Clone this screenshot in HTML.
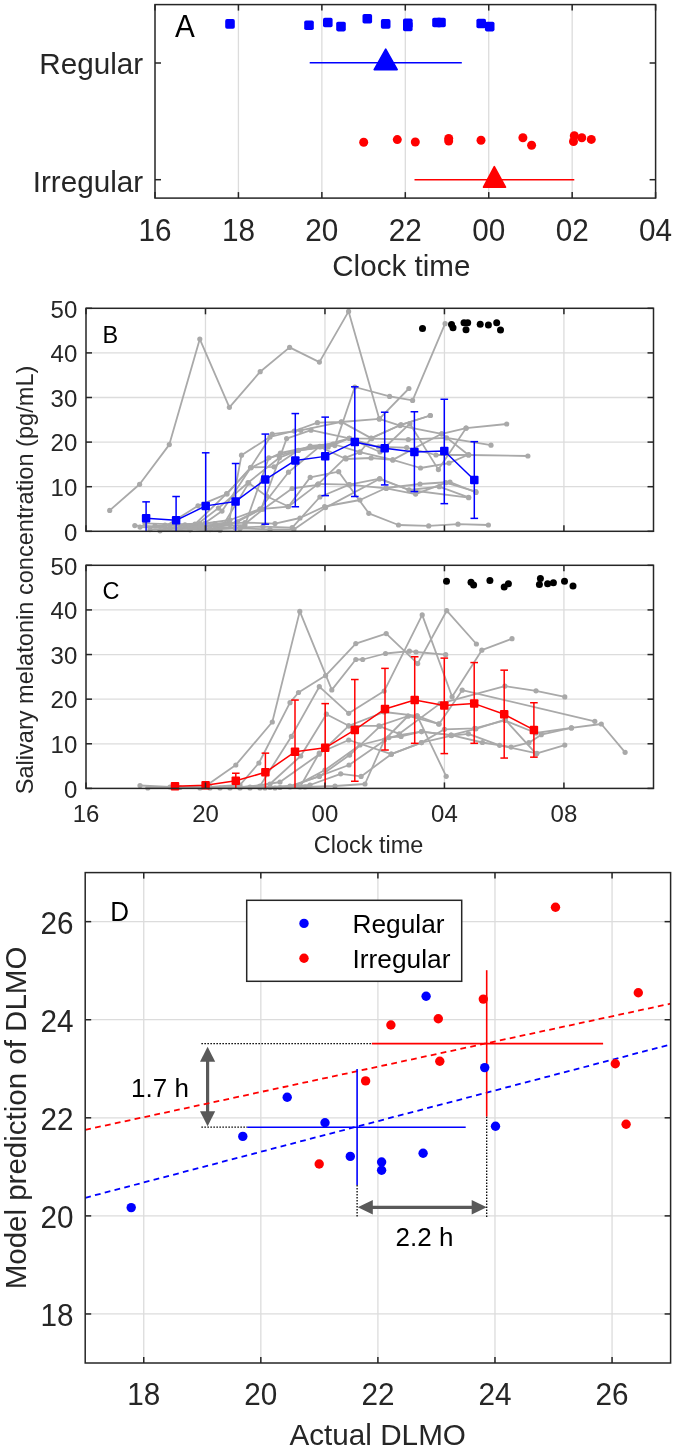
<!DOCTYPE html>
<html><head><meta charset="utf-8"><style>
html,body{margin:0;padding:0;background:#fff;}
svg{display:block;font-family:"Liberation Sans", sans-serif;will-change:transform;filter:blur(0.3px);}
</style></head><body>
<svg width="675" height="1449" viewBox="0 0 675 1449" font-family='"Liberation Sans", sans-serif'>
<rect width="675" height="1449" fill="#fff"/>
<line x1="238.43" y1="4.60" x2="238.43" y2="198.10" stroke="#dcdcdc" stroke-width="1.3" />
<line x1="321.87" y1="4.60" x2="321.87" y2="198.10" stroke="#dcdcdc" stroke-width="1.3" />
<line x1="405.30" y1="4.60" x2="405.30" y2="198.10" stroke="#dcdcdc" stroke-width="1.3" />
<line x1="488.73" y1="4.60" x2="488.73" y2="198.10" stroke="#dcdcdc" stroke-width="1.3" />
<line x1="572.17" y1="4.60" x2="572.17" y2="198.10" stroke="#dcdcdc" stroke-width="1.3" />
<rect x="225.20" y="19.10" width="9.6" height="9.6" rx="1.8" fill="#0000ff"/>
<rect x="304.20" y="20.40" width="9.6" height="9.6" rx="1.8" fill="#0000ff"/>
<rect x="323.00" y="17.70" width="9.6" height="9.6" rx="1.8" fill="#0000ff"/>
<rect x="336.20" y="21.80" width="9.6" height="9.6" rx="1.8" fill="#0000ff"/>
<rect x="362.50" y="13.90" width="9.6" height="9.6" rx="1.8" fill="#0000ff"/>
<rect x="380.90" y="19.10" width="9.6" height="9.6" rx="1.8" fill="#0000ff"/>
<rect x="403.00" y="18.40" width="9.6" height="9.6" rx="1.8" fill="#0000ff"/>
<rect x="403.00" y="21.60" width="9.6" height="9.6" rx="1.8" fill="#0000ff"/>
<rect x="432.20" y="17.70" width="9.6" height="9.6" rx="1.8" fill="#0000ff"/>
<rect x="436.20" y="17.70" width="9.6" height="9.6" rx="1.8" fill="#0000ff"/>
<rect x="476.40" y="18.70" width="9.6" height="9.6" rx="1.8" fill="#0000ff"/>
<rect x="484.90" y="21.80" width="9.6" height="9.6" rx="1.8" fill="#0000ff"/>
<line x1="309.70" y1="62.70" x2="461.80" y2="62.70" stroke="#0000ff" stroke-width="1.6" />
<polygon points="385.7,49.2 374.2,69.6 397.2,69.6" fill="#0000ff" stroke="#0000ff" stroke-width="1.6" stroke-linejoin="round"/>
<circle cx="363.70" cy="142.20" r="4.5" fill="#ff0000"/>
<circle cx="397.30" cy="139.60" r="4.5" fill="#ff0000"/>
<circle cx="415.30" cy="142.00" r="4.5" fill="#ff0000"/>
<circle cx="448.70" cy="138.40" r="4.5" fill="#ff0000"/>
<circle cx="448.70" cy="141.00" r="4.5" fill="#ff0000"/>
<circle cx="481.00" cy="140.30" r="4.5" fill="#ff0000"/>
<circle cx="522.90" cy="137.80" r="4.5" fill="#ff0000"/>
<circle cx="531.60" cy="145.30" r="4.5" fill="#ff0000"/>
<circle cx="574.30" cy="135.70" r="4.5" fill="#ff0000"/>
<circle cx="573.50" cy="141.50" r="4.5" fill="#ff0000"/>
<circle cx="581.80" cy="137.80" r="4.5" fill="#ff0000"/>
<circle cx="591.30" cy="139.40" r="4.5" fill="#ff0000"/>
<line x1="414.50" y1="179.70" x2="574.30" y2="179.70" stroke="#ff0000" stroke-width="1.6" />
<polygon points="494.3,166.7 483.5,187.2 505.5,187.2" fill="#ff0000" stroke="#ff0000" stroke-width="1.6" stroke-linejoin="round"/>
<line x1="155.00" y1="198.10" x2="155.00" y2="192.10" stroke="#262626" stroke-width="1.5" />
<line x1="155.00" y1="4.60" x2="155.00" y2="10.60" stroke="#262626" stroke-width="1.5" />
<line x1="238.43" y1="198.10" x2="238.43" y2="192.10" stroke="#262626" stroke-width="1.5" />
<line x1="238.43" y1="4.60" x2="238.43" y2="10.60" stroke="#262626" stroke-width="1.5" />
<line x1="321.87" y1="198.10" x2="321.87" y2="192.10" stroke="#262626" stroke-width="1.5" />
<line x1="321.87" y1="4.60" x2="321.87" y2="10.60" stroke="#262626" stroke-width="1.5" />
<line x1="405.30" y1="198.10" x2="405.30" y2="192.10" stroke="#262626" stroke-width="1.5" />
<line x1="405.30" y1="4.60" x2="405.30" y2="10.60" stroke="#262626" stroke-width="1.5" />
<line x1="488.73" y1="198.10" x2="488.73" y2="192.10" stroke="#262626" stroke-width="1.5" />
<line x1="488.73" y1="4.60" x2="488.73" y2="10.60" stroke="#262626" stroke-width="1.5" />
<line x1="572.17" y1="198.10" x2="572.17" y2="192.10" stroke="#262626" stroke-width="1.5" />
<line x1="572.17" y1="4.60" x2="572.17" y2="10.60" stroke="#262626" stroke-width="1.5" />
<line x1="655.60" y1="198.10" x2="655.60" y2="192.10" stroke="#262626" stroke-width="1.5" />
<line x1="655.60" y1="4.60" x2="655.60" y2="10.60" stroke="#262626" stroke-width="1.5" />
<line x1="155.00" y1="63.00" x2="161.00" y2="63.00" stroke="#262626" stroke-width="1.5" />
<line x1="655.60" y1="63.00" x2="649.60" y2="63.00" stroke="#262626" stroke-width="1.5" />
<line x1="155.00" y1="179.70" x2="161.00" y2="179.70" stroke="#262626" stroke-width="1.5" />
<line x1="655.60" y1="179.70" x2="649.60" y2="179.70" stroke="#262626" stroke-width="1.5" />
<rect x="155.0" y="4.6" width="500.6" height="193.5" fill="none" stroke="#262626" stroke-width="1.5"/>
<text transform="translate(155.00,241.10) scale(1,1.03)" font-size="29.7" text-anchor="middle" fill="#262626" >16</text>
<text transform="translate(238.43,241.10) scale(1,1.03)" font-size="29.7" text-anchor="middle" fill="#262626" >18</text>
<text transform="translate(321.87,241.10) scale(1,1.03)" font-size="29.7" text-anchor="middle" fill="#262626" >20</text>
<text transform="translate(405.30,241.10) scale(1,1.03)" font-size="29.7" text-anchor="middle" fill="#262626" >22</text>
<text transform="translate(488.73,241.10) scale(1,1.03)" font-size="29.7" text-anchor="middle" fill="#262626" >00</text>
<text transform="translate(572.17,241.10) scale(1,1.03)" font-size="29.7" text-anchor="middle" fill="#262626" >02</text>
<text transform="translate(655.60,241.10) scale(1,1.03)" font-size="29.7" text-anchor="middle" fill="#262626" >04</text>
<text transform="translate(401.30,275.80) scale(1,1.015)" font-size="29.6" text-anchor="middle" fill="#262626" >Clock time</text>
<text transform="translate(143.20,74.30) scale(1,1.015)" font-size="29.7" text-anchor="end" fill="#262626" >Regular</text>
<text transform="translate(143.20,191.50) scale(1,1.015)" font-size="29.7" text-anchor="end" fill="#262626" >Irregular</text>
<text transform="translate(174.90,36.70) scale(1,1.04)" font-size="29.7" text-anchor="start" fill="#000" >A</text>
<line x1="205.48" y1="308.30" x2="205.48" y2="531.30" stroke="#dcdcdc" stroke-width="1.3" />
<line x1="324.96" y1="308.30" x2="324.96" y2="531.30" stroke="#dcdcdc" stroke-width="1.3" />
<line x1="444.44" y1="308.30" x2="444.44" y2="531.30" stroke="#dcdcdc" stroke-width="1.3" />
<line x1="563.92" y1="308.30" x2="563.92" y2="531.30" stroke="#dcdcdc" stroke-width="1.3" />
<line x1="86.00" y1="486.70" x2="653.50" y2="486.70" stroke="#dcdcdc" stroke-width="1.3" />
<line x1="86.00" y1="442.10" x2="653.50" y2="442.10" stroke="#dcdcdc" stroke-width="1.3" />
<line x1="86.00" y1="397.50" x2="653.50" y2="397.50" stroke="#dcdcdc" stroke-width="1.3" />
<line x1="86.00" y1="352.90" x2="653.50" y2="352.90" stroke="#dcdcdc" stroke-width="1.3" />
<line x1="205.48" y1="565.30" x2="205.48" y2="788.40" stroke="#dcdcdc" stroke-width="1.3" />
<line x1="324.96" y1="565.30" x2="324.96" y2="788.40" stroke="#dcdcdc" stroke-width="1.3" />
<line x1="444.44" y1="565.30" x2="444.44" y2="788.40" stroke="#dcdcdc" stroke-width="1.3" />
<line x1="563.92" y1="565.30" x2="563.92" y2="788.40" stroke="#dcdcdc" stroke-width="1.3" />
<line x1="86.00" y1="743.78" x2="653.50" y2="743.78" stroke="#dcdcdc" stroke-width="1.3" />
<line x1="86.00" y1="699.16" x2="653.50" y2="699.16" stroke="#dcdcdc" stroke-width="1.3" />
<line x1="86.00" y1="654.54" x2="653.50" y2="654.54" stroke="#dcdcdc" stroke-width="1.3" />
<line x1="86.00" y1="609.92" x2="653.50" y2="609.92" stroke="#dcdcdc" stroke-width="1.3" />
<polyline points="109.70,510.40 139.60,484.30 169.30,444.60 199.80,339.10 229.40,407.30 260.20,371.70 289.60,347.40 319.40,362.10 348.60,311.40 379.30,418.90 408.90,388.50" fill="none" stroke="#a9a9a9" stroke-width="1.8" stroke-linejoin="round" />
<circle cx="109.70" cy="510.40" r="2.6" fill="#a9a9a9"/>
<circle cx="139.60" cy="484.30" r="2.6" fill="#a9a9a9"/>
<circle cx="169.30" cy="444.60" r="2.6" fill="#a9a9a9"/>
<circle cx="199.80" cy="339.10" r="2.6" fill="#a9a9a9"/>
<circle cx="229.40" cy="407.30" r="2.6" fill="#a9a9a9"/>
<circle cx="260.20" cy="371.70" r="2.6" fill="#a9a9a9"/>
<circle cx="289.60" cy="347.40" r="2.6" fill="#a9a9a9"/>
<circle cx="319.40" cy="362.10" r="2.6" fill="#a9a9a9"/>
<circle cx="348.60" cy="311.40" r="2.6" fill="#a9a9a9"/>
<circle cx="379.30" cy="418.90" r="2.6" fill="#a9a9a9"/>
<circle cx="408.90" cy="388.50" r="2.6" fill="#a9a9a9"/>
<polyline points="165.00,525.10 195.00,524.10 226.70,493.70 251.00,467.80 280.40,453.00 310.00,447.00 334.80,445.60 354.80,387.00 389.60,396.40 412.60,400.40 445.10,323.70" fill="none" stroke="#a9a9a9" stroke-width="1.8" stroke-linejoin="round" />
<circle cx="165.00" cy="525.10" r="2.6" fill="#a9a9a9"/>
<circle cx="195.00" cy="524.10" r="2.6" fill="#a9a9a9"/>
<circle cx="226.70" cy="493.70" r="2.6" fill="#a9a9a9"/>
<circle cx="251.00" cy="467.80" r="2.6" fill="#a9a9a9"/>
<circle cx="280.40" cy="453.00" r="2.6" fill="#a9a9a9"/>
<circle cx="310.00" cy="447.00" r="2.6" fill="#a9a9a9"/>
<circle cx="334.80" cy="445.60" r="2.6" fill="#a9a9a9"/>
<circle cx="354.80" cy="387.00" r="2.6" fill="#a9a9a9"/>
<circle cx="389.60" cy="396.40" r="2.6" fill="#a9a9a9"/>
<circle cx="412.60" cy="400.40" r="2.6" fill="#a9a9a9"/>
<circle cx="445.10" cy="323.70" r="2.6" fill="#a9a9a9"/>
<polyline points="134.80,525.60 165.00,526.60 198.00,505.80 227.00,493.90 250.50,467.50 272.20,434.20 300.70,430.30 341.50,421.90 371.10,438.10 401.00,424.80 430.30,415.50" fill="none" stroke="#a9a9a9" stroke-width="1.8" stroke-linejoin="round" />
<circle cx="134.80" cy="525.60" r="2.6" fill="#a9a9a9"/>
<circle cx="165.00" cy="526.60" r="2.6" fill="#a9a9a9"/>
<circle cx="198.00" cy="505.80" r="2.6" fill="#a9a9a9"/>
<circle cx="227.00" cy="493.90" r="2.6" fill="#a9a9a9"/>
<circle cx="250.50" cy="467.50" r="2.6" fill="#a9a9a9"/>
<circle cx="272.20" cy="434.20" r="2.6" fill="#a9a9a9"/>
<circle cx="300.70" cy="430.30" r="2.6" fill="#a9a9a9"/>
<circle cx="341.50" cy="421.90" r="2.6" fill="#a9a9a9"/>
<circle cx="371.10" cy="438.10" r="2.6" fill="#a9a9a9"/>
<circle cx="401.00" cy="424.80" r="2.6" fill="#a9a9a9"/>
<circle cx="430.30" cy="415.50" r="2.6" fill="#a9a9a9"/>
<polyline points="140.00,527.10 170.00,528.10 200.00,527.10 229.10,521.80 241.50,455.20 270.00,437.00 294.30,431.00 317.40,422.70 341.10,422.00 379.30,418.90 400.00,425.60 441.70,433.80 466.20,428.10 506.70,424.00" fill="none" stroke="#a9a9a9" stroke-width="1.8" stroke-linejoin="round" />
<circle cx="140.00" cy="527.10" r="2.6" fill="#a9a9a9"/>
<circle cx="170.00" cy="528.10" r="2.6" fill="#a9a9a9"/>
<circle cx="200.00" cy="527.10" r="2.6" fill="#a9a9a9"/>
<circle cx="229.10" cy="521.80" r="2.6" fill="#a9a9a9"/>
<circle cx="241.50" cy="455.20" r="2.6" fill="#a9a9a9"/>
<circle cx="270.00" cy="437.00" r="2.6" fill="#a9a9a9"/>
<circle cx="294.30" cy="431.00" r="2.6" fill="#a9a9a9"/>
<circle cx="317.40" cy="422.70" r="2.6" fill="#a9a9a9"/>
<circle cx="341.10" cy="422.00" r="2.6" fill="#a9a9a9"/>
<circle cx="379.30" cy="418.90" r="2.6" fill="#a9a9a9"/>
<circle cx="400.00" cy="425.60" r="2.6" fill="#a9a9a9"/>
<circle cx="441.70" cy="433.80" r="2.6" fill="#a9a9a9"/>
<circle cx="466.20" cy="428.10" r="2.6" fill="#a9a9a9"/>
<circle cx="506.70" cy="424.00" r="2.6" fill="#a9a9a9"/>
<polyline points="150.00,529.60 180.00,528.60 210.00,529.60 237.40,521.80 261.10,509.30 286.60,438.60 311.00,430.20 349.30,438.30 371.60,438.70 408.30,439.50 446.60,437.90 491.00,445.20" fill="none" stroke="#a9a9a9" stroke-width="1.8" stroke-linejoin="round" />
<circle cx="150.00" cy="529.60" r="2.6" fill="#a9a9a9"/>
<circle cx="180.00" cy="528.60" r="2.6" fill="#a9a9a9"/>
<circle cx="210.00" cy="529.60" r="2.6" fill="#a9a9a9"/>
<circle cx="237.40" cy="521.80" r="2.6" fill="#a9a9a9"/>
<circle cx="261.10" cy="509.30" r="2.6" fill="#a9a9a9"/>
<circle cx="286.60" cy="438.60" r="2.6" fill="#a9a9a9"/>
<circle cx="311.00" cy="430.20" r="2.6" fill="#a9a9a9"/>
<circle cx="349.30" cy="438.30" r="2.6" fill="#a9a9a9"/>
<circle cx="371.60" cy="438.70" r="2.6" fill="#a9a9a9"/>
<circle cx="408.30" cy="439.50" r="2.6" fill="#a9a9a9"/>
<circle cx="446.60" cy="437.90" r="2.6" fill="#a9a9a9"/>
<circle cx="491.00" cy="445.20" r="2.6" fill="#a9a9a9"/>
<polyline points="160.00,530.80 190.00,529.80 218.40,508.10 248.00,482.70 279.40,457.70 310.20,446.00 333.00,444.00 359.90,452.20 392.80,459.90 420.50,468.00 449.00,463.10 468.70,454.50" fill="none" stroke="#a9a9a9" stroke-width="1.8" stroke-linejoin="round" />
<circle cx="160.00" cy="530.80" r="2.6" fill="#a9a9a9"/>
<circle cx="190.00" cy="529.80" r="2.6" fill="#a9a9a9"/>
<circle cx="218.40" cy="508.10" r="2.6" fill="#a9a9a9"/>
<circle cx="248.00" cy="482.70" r="2.6" fill="#a9a9a9"/>
<circle cx="279.40" cy="457.70" r="2.6" fill="#a9a9a9"/>
<circle cx="310.20" cy="446.00" r="2.6" fill="#a9a9a9"/>
<circle cx="333.00" cy="444.00" r="2.6" fill="#a9a9a9"/>
<circle cx="359.90" cy="452.20" r="2.6" fill="#a9a9a9"/>
<circle cx="392.80" cy="459.90" r="2.6" fill="#a9a9a9"/>
<circle cx="420.50" cy="468.00" r="2.6" fill="#a9a9a9"/>
<circle cx="449.00" cy="463.10" r="2.6" fill="#a9a9a9"/>
<circle cx="468.70" cy="454.50" r="2.6" fill="#a9a9a9"/>
<polyline points="145.00,523.40 175.00,524.40 205.00,523.40 230.00,520.00 260.00,509.00 288.50,472.20 319.90,446.40 349.30,438.30 378.60,447.00 406.70,447.60 436.00,455.00 468.60,455.00 527.90,456.00" fill="none" stroke="#a9a9a9" stroke-width="1.8" stroke-linejoin="round" />
<circle cx="145.00" cy="523.40" r="2.6" fill="#a9a9a9"/>
<circle cx="175.00" cy="524.40" r="2.6" fill="#a9a9a9"/>
<circle cx="205.00" cy="523.40" r="2.6" fill="#a9a9a9"/>
<circle cx="230.00" cy="520.00" r="2.6" fill="#a9a9a9"/>
<circle cx="260.00" cy="509.00" r="2.6" fill="#a9a9a9"/>
<circle cx="288.50" cy="472.20" r="2.6" fill="#a9a9a9"/>
<circle cx="319.90" cy="446.40" r="2.6" fill="#a9a9a9"/>
<circle cx="349.30" cy="438.30" r="2.6" fill="#a9a9a9"/>
<circle cx="378.60" cy="447.00" r="2.6" fill="#a9a9a9"/>
<circle cx="406.70" cy="447.60" r="2.6" fill="#a9a9a9"/>
<circle cx="436.00" cy="455.00" r="2.6" fill="#a9a9a9"/>
<circle cx="468.60" cy="455.00" r="2.6" fill="#a9a9a9"/>
<circle cx="527.90" cy="456.00" r="2.6" fill="#a9a9a9"/>
<polyline points="155.00,525.90 185.00,524.90 215.00,525.90 245.00,524.90 268.80,457.80 298.70,450.30 328.20,446.90 349.30,438.30 380.00,452.00 409.90,423.70 438.40,469.60 466.00,428.20" fill="none" stroke="#a9a9a9" stroke-width="1.8" stroke-linejoin="round" />
<circle cx="155.00" cy="525.90" r="2.6" fill="#a9a9a9"/>
<circle cx="185.00" cy="524.90" r="2.6" fill="#a9a9a9"/>
<circle cx="215.00" cy="525.90" r="2.6" fill="#a9a9a9"/>
<circle cx="245.00" cy="524.90" r="2.6" fill="#a9a9a9"/>
<circle cx="268.80" cy="457.80" r="2.6" fill="#a9a9a9"/>
<circle cx="298.70" cy="450.30" r="2.6" fill="#a9a9a9"/>
<circle cx="328.20" cy="446.90" r="2.6" fill="#a9a9a9"/>
<circle cx="349.30" cy="438.30" r="2.6" fill="#a9a9a9"/>
<circle cx="380.00" cy="452.00" r="2.6" fill="#a9a9a9"/>
<circle cx="409.90" cy="423.70" r="2.6" fill="#a9a9a9"/>
<circle cx="438.40" cy="469.60" r="2.6" fill="#a9a9a9"/>
<circle cx="466.00" cy="428.20" r="2.6" fill="#a9a9a9"/>
<polyline points="170.00,527.40 200.00,526.40 222.00,511.10 251.10,467.30 274.00,466.80 297.90,450.50 320.00,447.00 346.00,459.00 371.10,458.00 392.80,459.90 441.70,433.80 468.60,455.00" fill="none" stroke="#a9a9a9" stroke-width="1.8" stroke-linejoin="round" />
<circle cx="170.00" cy="527.40" r="2.6" fill="#a9a9a9"/>
<circle cx="200.00" cy="526.40" r="2.6" fill="#a9a9a9"/>
<circle cx="222.00" cy="511.10" r="2.6" fill="#a9a9a9"/>
<circle cx="251.10" cy="467.30" r="2.6" fill="#a9a9a9"/>
<circle cx="274.00" cy="466.80" r="2.6" fill="#a9a9a9"/>
<circle cx="297.90" cy="450.50" r="2.6" fill="#a9a9a9"/>
<circle cx="320.00" cy="447.00" r="2.6" fill="#a9a9a9"/>
<circle cx="346.00" cy="459.00" r="2.6" fill="#a9a9a9"/>
<circle cx="371.10" cy="458.00" r="2.6" fill="#a9a9a9"/>
<circle cx="392.80" cy="459.90" r="2.6" fill="#a9a9a9"/>
<circle cx="441.70" cy="433.80" r="2.6" fill="#a9a9a9"/>
<circle cx="468.60" cy="455.00" r="2.6" fill="#a9a9a9"/>
<polyline points="180.00,527.90 210.00,528.90 240.00,527.90 263.20,509.20 292.10,488.50 317.40,484.80 345.20,457.90 359.90,452.20 371.30,438.30 401.00,424.80 430.30,415.50" fill="none" stroke="#a9a9a9" stroke-width="1.8" stroke-linejoin="round" />
<circle cx="180.00" cy="527.90" r="2.6" fill="#a9a9a9"/>
<circle cx="210.00" cy="528.90" r="2.6" fill="#a9a9a9"/>
<circle cx="240.00" cy="527.90" r="2.6" fill="#a9a9a9"/>
<circle cx="263.20" cy="509.20" r="2.6" fill="#a9a9a9"/>
<circle cx="292.10" cy="488.50" r="2.6" fill="#a9a9a9"/>
<circle cx="317.40" cy="484.80" r="2.6" fill="#a9a9a9"/>
<circle cx="345.20" cy="457.90" r="2.6" fill="#a9a9a9"/>
<circle cx="359.90" cy="452.20" r="2.6" fill="#a9a9a9"/>
<circle cx="371.30" cy="438.30" r="2.6" fill="#a9a9a9"/>
<circle cx="401.00" cy="424.80" r="2.6" fill="#a9a9a9"/>
<circle cx="430.30" cy="415.50" r="2.6" fill="#a9a9a9"/>
<polyline points="190.00,529.20 220.00,530.20 248.70,483.10 266.60,496.20 288.50,506.50 310.20,477.40 338.70,471.70 368.80,513.30 398.50,525.00 428.70,525.90 458.00,524.20 488.40,525.00" fill="none" stroke="#a9a9a9" stroke-width="1.8" stroke-linejoin="round" />
<circle cx="190.00" cy="529.20" r="2.6" fill="#a9a9a9"/>
<circle cx="220.00" cy="530.20" r="2.6" fill="#a9a9a9"/>
<circle cx="248.70" cy="483.10" r="2.6" fill="#a9a9a9"/>
<circle cx="266.60" cy="496.20" r="2.6" fill="#a9a9a9"/>
<circle cx="288.50" cy="506.50" r="2.6" fill="#a9a9a9"/>
<circle cx="310.20" cy="477.40" r="2.6" fill="#a9a9a9"/>
<circle cx="338.70" cy="471.70" r="2.6" fill="#a9a9a9"/>
<circle cx="368.80" cy="513.30" r="2.6" fill="#a9a9a9"/>
<circle cx="398.50" cy="525.00" r="2.6" fill="#a9a9a9"/>
<circle cx="428.70" cy="525.90" r="2.6" fill="#a9a9a9"/>
<circle cx="458.00" cy="524.20" r="2.6" fill="#a9a9a9"/>
<circle cx="488.40" cy="525.00" r="2.6" fill="#a9a9a9"/>
<polyline points="200.00,523.60 230.00,524.60 260.10,509.20 288.10,506.70 318.30,483.90 349.30,484.70 379.80,478.60 409.10,490.00 439.30,486.70 468.60,497.30" fill="none" stroke="#a9a9a9" stroke-width="1.8" stroke-linejoin="round" />
<circle cx="200.00" cy="523.60" r="2.6" fill="#a9a9a9"/>
<circle cx="230.00" cy="524.60" r="2.6" fill="#a9a9a9"/>
<circle cx="260.10" cy="509.20" r="2.6" fill="#a9a9a9"/>
<circle cx="288.10" cy="506.70" r="2.6" fill="#a9a9a9"/>
<circle cx="318.30" cy="483.90" r="2.6" fill="#a9a9a9"/>
<circle cx="349.30" cy="484.70" r="2.6" fill="#a9a9a9"/>
<circle cx="379.80" cy="478.60" r="2.6" fill="#a9a9a9"/>
<circle cx="409.10" cy="490.00" r="2.6" fill="#a9a9a9"/>
<circle cx="439.30" cy="486.70" r="2.6" fill="#a9a9a9"/>
<circle cx="468.60" cy="497.30" r="2.6" fill="#a9a9a9"/>
<polyline points="205.00,526.60 235.00,527.60 263.00,526.60 292.20,527.60 319.90,497.00 349.30,484.70 386.30,488.40 415.60,494.10 445.80,482.70 475.90,491.60" fill="none" stroke="#a9a9a9" stroke-width="1.8" stroke-linejoin="round" />
<circle cx="205.00" cy="526.60" r="2.6" fill="#a9a9a9"/>
<circle cx="235.00" cy="527.60" r="2.6" fill="#a9a9a9"/>
<circle cx="263.00" cy="526.60" r="2.6" fill="#a9a9a9"/>
<circle cx="292.20" cy="527.60" r="2.6" fill="#a9a9a9"/>
<circle cx="319.90" cy="497.00" r="2.6" fill="#a9a9a9"/>
<circle cx="349.30" cy="484.70" r="2.6" fill="#a9a9a9"/>
<circle cx="386.30" cy="488.40" r="2.6" fill="#a9a9a9"/>
<circle cx="415.60" cy="494.10" r="2.6" fill="#a9a9a9"/>
<circle cx="445.80" cy="482.70" r="2.6" fill="#a9a9a9"/>
<circle cx="475.90" cy="491.60" r="2.6" fill="#a9a9a9"/>
<polyline points="210.00,529.40 240.00,528.40 270.00,529.40 293.90,529.40 325.60,507.60 379.40,479.00 409.10,490.00 468.70,497.70" fill="none" stroke="#a9a9a9" stroke-width="1.8" stroke-linejoin="round" />
<circle cx="210.00" cy="529.40" r="2.6" fill="#a9a9a9"/>
<circle cx="240.00" cy="528.40" r="2.6" fill="#a9a9a9"/>
<circle cx="270.00" cy="529.40" r="2.6" fill="#a9a9a9"/>
<circle cx="293.90" cy="529.40" r="2.6" fill="#a9a9a9"/>
<circle cx="325.60" cy="507.60" r="2.6" fill="#a9a9a9"/>
<circle cx="379.40" cy="479.00" r="2.6" fill="#a9a9a9"/>
<circle cx="409.10" cy="490.00" r="2.6" fill="#a9a9a9"/>
<circle cx="468.70" cy="497.70" r="2.6" fill="#a9a9a9"/>
<polyline points="215.00,523.60 245.00,522.60 275.00,523.60 300.00,518.00 324.60,506.50 360.00,500.00 386.00,488.00 420.00,484.00 450.00,482.00 476.00,492.50" fill="none" stroke="#a9a9a9" stroke-width="1.8" stroke-linejoin="round" />
<circle cx="215.00" cy="523.60" r="2.6" fill="#a9a9a9"/>
<circle cx="245.00" cy="522.60" r="2.6" fill="#a9a9a9"/>
<circle cx="275.00" cy="523.60" r="2.6" fill="#a9a9a9"/>
<circle cx="300.00" cy="518.00" r="2.6" fill="#a9a9a9"/>
<circle cx="324.60" cy="506.50" r="2.6" fill="#a9a9a9"/>
<circle cx="360.00" cy="500.00" r="2.6" fill="#a9a9a9"/>
<circle cx="386.00" cy="488.00" r="2.6" fill="#a9a9a9"/>
<circle cx="420.00" cy="484.00" r="2.6" fill="#a9a9a9"/>
<circle cx="450.00" cy="482.00" r="2.6" fill="#a9a9a9"/>
<circle cx="476.00" cy="492.50" r="2.6" fill="#a9a9a9"/>
<polyline points="140.00,785.50 170.00,787.00 205.00,786.50 235.80,765.00 272.30,722.00 299.80,611.40 331.80,689.90 355.80,659.50 362.70,659.50 385.50,653.50 409.40,651.20 416.00,652.00 445.70,654.70" fill="none" stroke="#a9a9a9" stroke-width="1.8" stroke-linejoin="round" />
<circle cx="140.00" cy="785.50" r="2.6" fill="#a9a9a9"/>
<circle cx="170.00" cy="787.00" r="2.6" fill="#a9a9a9"/>
<circle cx="205.00" cy="786.50" r="2.6" fill="#a9a9a9"/>
<circle cx="235.80" cy="765.00" r="2.6" fill="#a9a9a9"/>
<circle cx="272.30" cy="722.00" r="2.6" fill="#a9a9a9"/>
<circle cx="299.80" cy="611.40" r="2.6" fill="#a9a9a9"/>
<circle cx="331.80" cy="689.90" r="2.6" fill="#a9a9a9"/>
<circle cx="355.80" cy="659.50" r="2.6" fill="#a9a9a9"/>
<circle cx="362.70" cy="659.50" r="2.6" fill="#a9a9a9"/>
<circle cx="385.50" cy="653.50" r="2.6" fill="#a9a9a9"/>
<circle cx="409.40" cy="651.20" r="2.6" fill="#a9a9a9"/>
<circle cx="416.00" cy="652.00" r="2.6" fill="#a9a9a9"/>
<circle cx="445.70" cy="654.70" r="2.6" fill="#a9a9a9"/>
<polyline points="147.80,788.00 180.00,787.50 210.00,787.00 240.00,785.00 258.90,763.00 290.00,702.70 298.50,692.50 325.60,675.60 355.80,643.60 386.20,633.60 417.70,663.60 446.70,610.70 476.40,644.00" fill="none" stroke="#a9a9a9" stroke-width="1.8" stroke-linejoin="round" />
<circle cx="147.80" cy="788.00" r="2.6" fill="#a9a9a9"/>
<circle cx="180.00" cy="787.50" r="2.6" fill="#a9a9a9"/>
<circle cx="210.00" cy="787.00" r="2.6" fill="#a9a9a9"/>
<circle cx="240.00" cy="785.00" r="2.6" fill="#a9a9a9"/>
<circle cx="258.90" cy="763.00" r="2.6" fill="#a9a9a9"/>
<circle cx="290.00" cy="702.70" r="2.6" fill="#a9a9a9"/>
<circle cx="298.50" cy="692.50" r="2.6" fill="#a9a9a9"/>
<circle cx="325.60" cy="675.60" r="2.6" fill="#a9a9a9"/>
<circle cx="355.80" cy="643.60" r="2.6" fill="#a9a9a9"/>
<circle cx="386.20" cy="633.60" r="2.6" fill="#a9a9a9"/>
<circle cx="417.70" cy="663.60" r="2.6" fill="#a9a9a9"/>
<circle cx="446.70" cy="610.70" r="2.6" fill="#a9a9a9"/>
<circle cx="476.40" cy="644.00" r="2.6" fill="#a9a9a9"/>
<polyline points="200.00,788.00 230.00,787.50 260.00,786.00 291.40,736.40 319.30,686.70 348.70,713.30 384.20,691.10 422.20,614.90 452.10,696.80 481.80,650.20 512.00,638.70" fill="none" stroke="#a9a9a9" stroke-width="1.8" stroke-linejoin="round" />
<circle cx="200.00" cy="788.00" r="2.6" fill="#a9a9a9"/>
<circle cx="230.00" cy="787.50" r="2.6" fill="#a9a9a9"/>
<circle cx="260.00" cy="786.00" r="2.6" fill="#a9a9a9"/>
<circle cx="291.40" cy="736.40" r="2.6" fill="#a9a9a9"/>
<circle cx="319.30" cy="686.70" r="2.6" fill="#a9a9a9"/>
<circle cx="348.70" cy="713.30" r="2.6" fill="#a9a9a9"/>
<circle cx="384.20" cy="691.10" r="2.6" fill="#a9a9a9"/>
<circle cx="422.20" cy="614.90" r="2.6" fill="#a9a9a9"/>
<circle cx="452.10" cy="696.80" r="2.6" fill="#a9a9a9"/>
<circle cx="481.80" cy="650.20" r="2.6" fill="#a9a9a9"/>
<circle cx="512.00" cy="638.70" r="2.6" fill="#a9a9a9"/>
<polyline points="210.00,788.00 240.00,787.50 270.00,784.00 300.70,756.00 326.40,714.20 348.70,725.80 378.90,725.80 408.20,716.00 417.20,715.90 446.20,776.30" fill="none" stroke="#a9a9a9" stroke-width="1.8" stroke-linejoin="round" />
<circle cx="210.00" cy="788.00" r="2.6" fill="#a9a9a9"/>
<circle cx="240.00" cy="787.50" r="2.6" fill="#a9a9a9"/>
<circle cx="270.00" cy="784.00" r="2.6" fill="#a9a9a9"/>
<circle cx="300.70" cy="756.00" r="2.6" fill="#a9a9a9"/>
<circle cx="326.40" cy="714.20" r="2.6" fill="#a9a9a9"/>
<circle cx="348.70" cy="725.80" r="2.6" fill="#a9a9a9"/>
<circle cx="378.90" cy="725.80" r="2.6" fill="#a9a9a9"/>
<circle cx="408.20" cy="716.00" r="2.6" fill="#a9a9a9"/>
<circle cx="417.20" cy="715.90" r="2.6" fill="#a9a9a9"/>
<circle cx="446.20" cy="776.30" r="2.6" fill="#a9a9a9"/>
<polyline points="220.00,788.00 250.00,787.00 280.00,782.00 319.30,754.20 348.70,725.80 384.20,712.00 417.20,715.90 439.10,724.10 462.20,690.20 594.80,721.30" fill="none" stroke="#a9a9a9" stroke-width="1.8" stroke-linejoin="round" />
<circle cx="220.00" cy="788.00" r="2.6" fill="#a9a9a9"/>
<circle cx="250.00" cy="787.00" r="2.6" fill="#a9a9a9"/>
<circle cx="280.00" cy="782.00" r="2.6" fill="#a9a9a9"/>
<circle cx="319.30" cy="754.20" r="2.6" fill="#a9a9a9"/>
<circle cx="348.70" cy="725.80" r="2.6" fill="#a9a9a9"/>
<circle cx="384.20" cy="712.00" r="2.6" fill="#a9a9a9"/>
<circle cx="417.20" cy="715.90" r="2.6" fill="#a9a9a9"/>
<circle cx="439.10" cy="724.10" r="2.6" fill="#a9a9a9"/>
<circle cx="462.20" cy="690.20" r="2.6" fill="#a9a9a9"/>
<circle cx="594.80" cy="721.30" r="2.6" fill="#a9a9a9"/>
<polyline points="230.00,788.00 260.00,787.50 290.00,786.00 319.30,776.40 349.60,755.10 380.00,726.30 399.30,733.80 440.00,703.60 504.90,686.10 536.00,690.80 564.80,696.90" fill="none" stroke="#a9a9a9" stroke-width="1.8" stroke-linejoin="round" />
<circle cx="230.00" cy="788.00" r="2.6" fill="#a9a9a9"/>
<circle cx="260.00" cy="787.50" r="2.6" fill="#a9a9a9"/>
<circle cx="290.00" cy="786.00" r="2.6" fill="#a9a9a9"/>
<circle cx="319.30" cy="776.40" r="2.6" fill="#a9a9a9"/>
<circle cx="349.60" cy="755.10" r="2.6" fill="#a9a9a9"/>
<circle cx="380.00" cy="726.30" r="2.6" fill="#a9a9a9"/>
<circle cx="399.30" cy="733.80" r="2.6" fill="#a9a9a9"/>
<circle cx="440.00" cy="703.60" r="2.6" fill="#a9a9a9"/>
<circle cx="504.90" cy="686.10" r="2.6" fill="#a9a9a9"/>
<circle cx="536.00" cy="690.80" r="2.6" fill="#a9a9a9"/>
<circle cx="564.80" cy="696.90" r="2.6" fill="#a9a9a9"/>
<polyline points="240.00,788.00 270.00,787.50 300.00,787.00 319.30,753.00 348.70,740.00 391.30,754.20 421.50,742.60 444.40,729.30 474.70,728.40 504.90,720.40 536.00,733.00 571.40,727.90 601.30,724.00 625.10,752.30" fill="none" stroke="#a9a9a9" stroke-width="1.8" stroke-linejoin="round" />
<circle cx="240.00" cy="788.00" r="2.6" fill="#a9a9a9"/>
<circle cx="270.00" cy="787.50" r="2.6" fill="#a9a9a9"/>
<circle cx="300.00" cy="787.00" r="2.6" fill="#a9a9a9"/>
<circle cx="319.30" cy="753.00" r="2.6" fill="#a9a9a9"/>
<circle cx="348.70" cy="740.00" r="2.6" fill="#a9a9a9"/>
<circle cx="391.30" cy="754.20" r="2.6" fill="#a9a9a9"/>
<circle cx="421.50" cy="742.60" r="2.6" fill="#a9a9a9"/>
<circle cx="444.40" cy="729.30" r="2.6" fill="#a9a9a9"/>
<circle cx="474.70" cy="728.40" r="2.6" fill="#a9a9a9"/>
<circle cx="504.90" cy="720.40" r="2.6" fill="#a9a9a9"/>
<circle cx="536.00" cy="733.00" r="2.6" fill="#a9a9a9"/>
<circle cx="571.40" cy="727.90" r="2.6" fill="#a9a9a9"/>
<circle cx="601.30" cy="724.00" r="2.6" fill="#a9a9a9"/>
<circle cx="625.10" cy="752.30" r="2.6" fill="#a9a9a9"/>
<polyline points="250.00,788.00 280.00,787.50 310.00,785.00 340.70,773.80 361.10,776.40 391.30,754.20 421.50,742.60 451.60,735.60 468.40,733.80 499.60,745.30 536.90,753.30 564.80,745.10" fill="none" stroke="#a9a9a9" stroke-width="1.8" stroke-linejoin="round" />
<circle cx="250.00" cy="788.00" r="2.6" fill="#a9a9a9"/>
<circle cx="280.00" cy="787.50" r="2.6" fill="#a9a9a9"/>
<circle cx="310.00" cy="785.00" r="2.6" fill="#a9a9a9"/>
<circle cx="340.70" cy="773.80" r="2.6" fill="#a9a9a9"/>
<circle cx="361.10" cy="776.40" r="2.6" fill="#a9a9a9"/>
<circle cx="391.30" cy="754.20" r="2.6" fill="#a9a9a9"/>
<circle cx="421.50" cy="742.60" r="2.6" fill="#a9a9a9"/>
<circle cx="451.60" cy="735.60" r="2.6" fill="#a9a9a9"/>
<circle cx="468.40" cy="733.80" r="2.6" fill="#a9a9a9"/>
<circle cx="499.60" cy="745.30" r="2.6" fill="#a9a9a9"/>
<circle cx="536.90" cy="753.30" r="2.6" fill="#a9a9a9"/>
<circle cx="564.80" cy="745.10" r="2.6" fill="#a9a9a9"/>
<polyline points="260.00,788.00 290.00,787.00 319.30,776.10 349.00,765.00 388.90,737.60 401.10,736.40 421.50,731.60 451.10,735.20 482.40,742.50 511.10,747.10 528.90,742.70 541.30,734.70 571.40,727.90" fill="none" stroke="#a9a9a9" stroke-width="1.8" stroke-linejoin="round" />
<circle cx="260.00" cy="788.00" r="2.6" fill="#a9a9a9"/>
<circle cx="290.00" cy="787.00" r="2.6" fill="#a9a9a9"/>
<circle cx="319.30" cy="776.10" r="2.6" fill="#a9a9a9"/>
<circle cx="349.00" cy="765.00" r="2.6" fill="#a9a9a9"/>
<circle cx="388.90" cy="737.60" r="2.6" fill="#a9a9a9"/>
<circle cx="401.10" cy="736.40" r="2.6" fill="#a9a9a9"/>
<circle cx="421.50" cy="731.60" r="2.6" fill="#a9a9a9"/>
<circle cx="451.10" cy="735.20" r="2.6" fill="#a9a9a9"/>
<circle cx="482.40" cy="742.50" r="2.6" fill="#a9a9a9"/>
<circle cx="511.10" cy="747.10" r="2.6" fill="#a9a9a9"/>
<circle cx="528.90" cy="742.70" r="2.6" fill="#a9a9a9"/>
<circle cx="541.30" cy="734.70" r="2.6" fill="#a9a9a9"/>
<circle cx="571.40" cy="727.90" r="2.6" fill="#a9a9a9"/>
<polyline points="265.00,788.00 295.00,786.00 325.00,770.00 360.00,745.00 399.30,735.20 421.50,731.60 451.10,735.20 475.90,728.80 505.20,719.70 536.20,753.90" fill="none" stroke="#a9a9a9" stroke-width="1.8" stroke-linejoin="round" />
<circle cx="265.00" cy="788.00" r="2.6" fill="#a9a9a9"/>
<circle cx="295.00" cy="786.00" r="2.6" fill="#a9a9a9"/>
<circle cx="325.00" cy="770.00" r="2.6" fill="#a9a9a9"/>
<circle cx="360.00" cy="745.00" r="2.6" fill="#a9a9a9"/>
<circle cx="399.30" cy="735.20" r="2.6" fill="#a9a9a9"/>
<circle cx="421.50" cy="731.60" r="2.6" fill="#a9a9a9"/>
<circle cx="451.10" cy="735.20" r="2.6" fill="#a9a9a9"/>
<circle cx="475.90" cy="728.80" r="2.6" fill="#a9a9a9"/>
<circle cx="505.20" cy="719.70" r="2.6" fill="#a9a9a9"/>
<circle cx="536.20" cy="753.90" r="2.6" fill="#a9a9a9"/>
<polyline points="275.00,788.00 305.00,787.00 335.00,786.00 365.00,784.00 384.40,740.00 408.10,716.00 438.70,723.90" fill="none" stroke="#a9a9a9" stroke-width="1.8" stroke-linejoin="round" />
<circle cx="275.00" cy="788.00" r="2.6" fill="#a9a9a9"/>
<circle cx="305.00" cy="787.00" r="2.6" fill="#a9a9a9"/>
<circle cx="335.00" cy="786.00" r="2.6" fill="#a9a9a9"/>
<circle cx="365.00" cy="784.00" r="2.6" fill="#a9a9a9"/>
<circle cx="384.40" cy="740.00" r="2.6" fill="#a9a9a9"/>
<circle cx="408.10" cy="716.00" r="2.6" fill="#a9a9a9"/>
<circle cx="438.70" cy="723.90" r="2.6" fill="#a9a9a9"/>
<line x1="146.10" y1="531.30" x2="146.10" y2="501.86" stroke="#0000ff" stroke-width="1.5" />
<line x1="142.30" y1="501.86" x2="149.90" y2="501.86" stroke="#0000ff" stroke-width="1.5" />
<line x1="176.10" y1="531.30" x2="176.10" y2="496.51" stroke="#0000ff" stroke-width="1.5" />
<line x1="172.30" y1="496.51" x2="179.90" y2="496.51" stroke="#0000ff" stroke-width="1.5" />
<line x1="205.70" y1="531.30" x2="205.70" y2="452.80" stroke="#0000ff" stroke-width="1.5" />
<line x1="201.90" y1="452.80" x2="209.50" y2="452.80" stroke="#0000ff" stroke-width="1.5" />
<line x1="235.60" y1="531.30" x2="235.60" y2="463.51" stroke="#0000ff" stroke-width="1.5" />
<line x1="231.80" y1="463.51" x2="239.40" y2="463.51" stroke="#0000ff" stroke-width="1.5" />
<line x1="265.30" y1="524.16" x2="265.30" y2="434.07" stroke="#0000ff" stroke-width="1.5" />
<line x1="261.50" y1="434.07" x2="269.10" y2="434.07" stroke="#0000ff" stroke-width="1.5" />
<line x1="261.50" y1="524.16" x2="269.10" y2="524.16" stroke="#0000ff" stroke-width="1.5" />
<line x1="295.30" y1="506.77" x2="295.30" y2="413.56" stroke="#0000ff" stroke-width="1.5" />
<line x1="291.50" y1="413.56" x2="299.10" y2="413.56" stroke="#0000ff" stroke-width="1.5" />
<line x1="291.50" y1="506.77" x2="299.10" y2="506.77" stroke="#0000ff" stroke-width="1.5" />
<line x1="325.20" y1="495.62" x2="325.20" y2="417.12" stroke="#0000ff" stroke-width="1.5" />
<line x1="321.40" y1="417.12" x2="329.00" y2="417.12" stroke="#0000ff" stroke-width="1.5" />
<line x1="321.40" y1="495.62" x2="329.00" y2="495.62" stroke="#0000ff" stroke-width="1.5" />
<line x1="354.80" y1="496.51" x2="354.80" y2="386.80" stroke="#0000ff" stroke-width="1.5" />
<line x1="351.00" y1="386.80" x2="358.60" y2="386.80" stroke="#0000ff" stroke-width="1.5" />
<line x1="351.00" y1="496.51" x2="358.60" y2="496.51" stroke="#0000ff" stroke-width="1.5" />
<line x1="384.70" y1="484.92" x2="384.70" y2="412.22" stroke="#0000ff" stroke-width="1.5" />
<line x1="380.90" y1="412.22" x2="388.50" y2="412.22" stroke="#0000ff" stroke-width="1.5" />
<line x1="380.90" y1="484.92" x2="388.50" y2="484.92" stroke="#0000ff" stroke-width="1.5" />
<line x1="414.40" y1="491.61" x2="414.40" y2="411.77" stroke="#0000ff" stroke-width="1.5" />
<line x1="410.60" y1="411.77" x2="418.20" y2="411.77" stroke="#0000ff" stroke-width="1.5" />
<line x1="410.60" y1="491.61" x2="418.20" y2="491.61" stroke="#0000ff" stroke-width="1.5" />
<line x1="444.30" y1="503.65" x2="444.30" y2="399.28" stroke="#0000ff" stroke-width="1.5" />
<line x1="440.50" y1="399.28" x2="448.10" y2="399.28" stroke="#0000ff" stroke-width="1.5" />
<line x1="440.50" y1="503.65" x2="448.10" y2="503.65" stroke="#0000ff" stroke-width="1.5" />
<line x1="474.30" y1="518.37" x2="474.30" y2="441.65" stroke="#0000ff" stroke-width="1.5" />
<line x1="470.50" y1="441.65" x2="478.10" y2="441.65" stroke="#0000ff" stroke-width="1.5" />
<line x1="470.50" y1="518.37" x2="478.10" y2="518.37" stroke="#0000ff" stroke-width="1.5" />
<polyline points="146.10,518.37 176.10,520.37 205.70,505.88 235.60,501.42 265.30,479.56 295.30,460.39 325.20,456.37 354.80,442.10 384.70,448.34 414.40,451.91 444.30,451.02 474.30,480.01" fill="none" stroke="#0000ff" stroke-width="1.5" stroke-linejoin="round" />
<rect x="141.85" y="514.12" width="8.5" height="8.5" rx="1" fill="#0000ff"/>
<rect x="171.85" y="516.12" width="8.5" height="8.5" rx="1" fill="#0000ff"/>
<rect x="201.45" y="501.63" width="8.5" height="8.5" rx="1" fill="#0000ff"/>
<rect x="231.35" y="497.17" width="8.5" height="8.5" rx="1" fill="#0000ff"/>
<rect x="261.05" y="475.31" width="8.5" height="8.5" rx="1" fill="#0000ff"/>
<rect x="291.05" y="456.14" width="8.5" height="8.5" rx="1" fill="#0000ff"/>
<rect x="320.95" y="452.12" width="8.5" height="8.5" rx="1" fill="#0000ff"/>
<rect x="350.55" y="437.85" width="8.5" height="8.5" rx="1" fill="#0000ff"/>
<rect x="380.45" y="444.09" width="8.5" height="8.5" rx="1" fill="#0000ff"/>
<rect x="410.15" y="447.66" width="8.5" height="8.5" rx="1" fill="#0000ff"/>
<rect x="440.05" y="446.77" width="8.5" height="8.5" rx="1" fill="#0000ff"/>
<rect x="470.05" y="475.76" width="8.5" height="8.5" rx="1" fill="#0000ff"/>
<line x1="235.80" y1="788.40" x2="235.80" y2="773.23" stroke="#ff0000" stroke-width="1.5" />
<line x1="232.00" y1="773.23" x2="239.60" y2="773.23" stroke="#ff0000" stroke-width="1.5" />
<line x1="265.40" y1="788.40" x2="265.40" y2="753.15" stroke="#ff0000" stroke-width="1.5" />
<line x1="261.60" y1="753.15" x2="269.20" y2="753.15" stroke="#ff0000" stroke-width="1.5" />
<line x1="295.00" y1="788.40" x2="295.00" y2="700.05" stroke="#ff0000" stroke-width="1.5" />
<line x1="291.20" y1="700.05" x2="298.80" y2="700.05" stroke="#ff0000" stroke-width="1.5" />
<line x1="325.20" y1="788.40" x2="325.20" y2="703.62" stroke="#ff0000" stroke-width="1.5" />
<line x1="321.40" y1="703.62" x2="329.00" y2="703.62" stroke="#ff0000" stroke-width="1.5" />
<line x1="354.80" y1="781.26" x2="354.80" y2="679.53" stroke="#ff0000" stroke-width="1.5" />
<line x1="351.00" y1="679.53" x2="358.60" y2="679.53" stroke="#ff0000" stroke-width="1.5" />
<line x1="351.00" y1="781.26" x2="358.60" y2="781.26" stroke="#ff0000" stroke-width="1.5" />
<line x1="385.00" y1="750.03" x2="385.00" y2="668.37" stroke="#ff0000" stroke-width="1.5" />
<line x1="381.20" y1="668.37" x2="388.80" y2="668.37" stroke="#ff0000" stroke-width="1.5" />
<line x1="381.20" y1="750.03" x2="388.80" y2="750.03" stroke="#ff0000" stroke-width="1.5" />
<line x1="414.70" y1="743.33" x2="414.70" y2="656.77" stroke="#ff0000" stroke-width="1.5" />
<line x1="410.90" y1="656.77" x2="418.50" y2="656.77" stroke="#ff0000" stroke-width="1.5" />
<line x1="410.90" y1="743.33" x2="418.50" y2="743.33" stroke="#ff0000" stroke-width="1.5" />
<line x1="444.30" y1="753.60" x2="444.30" y2="658.11" stroke="#ff0000" stroke-width="1.5" />
<line x1="440.50" y1="658.11" x2="448.10" y2="658.11" stroke="#ff0000" stroke-width="1.5" />
<line x1="440.50" y1="753.60" x2="448.10" y2="753.60" stroke="#ff0000" stroke-width="1.5" />
<line x1="474.20" y1="743.33" x2="474.20" y2="662.57" stroke="#ff0000" stroke-width="1.5" />
<line x1="470.40" y1="662.57" x2="478.00" y2="662.57" stroke="#ff0000" stroke-width="1.5" />
<line x1="470.40" y1="743.33" x2="478.00" y2="743.33" stroke="#ff0000" stroke-width="1.5" />
<line x1="504.20" y1="758.06" x2="504.20" y2="670.16" stroke="#ff0000" stroke-width="1.5" />
<line x1="500.40" y1="670.16" x2="508.00" y2="670.16" stroke="#ff0000" stroke-width="1.5" />
<line x1="500.40" y1="758.06" x2="508.00" y2="758.06" stroke="#ff0000" stroke-width="1.5" />
<line x1="533.90" y1="757.17" x2="533.90" y2="702.73" stroke="#ff0000" stroke-width="1.5" />
<line x1="530.10" y1="702.73" x2="537.70" y2="702.73" stroke="#ff0000" stroke-width="1.5" />
<line x1="530.10" y1="757.17" x2="537.70" y2="757.17" stroke="#ff0000" stroke-width="1.5" />
<polyline points="175.00,786.17 205.60,785.28 235.80,780.81 265.40,772.34 295.00,751.81 325.20,747.80 354.80,729.95 385.00,708.98 414.70,700.05 444.30,705.41 474.20,703.62 504.20,714.33 533.90,729.95" fill="none" stroke="#ff0000" stroke-width="1.5" stroke-linejoin="round" />
<rect x="170.75" y="781.92" width="8.5" height="8.5" rx="1" fill="#ff0000"/>
<rect x="201.35" y="781.03" width="8.5" height="8.5" rx="1" fill="#ff0000"/>
<rect x="231.55" y="776.56" width="8.5" height="8.5" rx="1" fill="#ff0000"/>
<rect x="261.15" y="768.09" width="8.5" height="8.5" rx="1" fill="#ff0000"/>
<rect x="290.75" y="747.56" width="8.5" height="8.5" rx="1" fill="#ff0000"/>
<rect x="320.95" y="743.55" width="8.5" height="8.5" rx="1" fill="#ff0000"/>
<rect x="350.55" y="725.70" width="8.5" height="8.5" rx="1" fill="#ff0000"/>
<rect x="380.75" y="704.73" width="8.5" height="8.5" rx="1" fill="#ff0000"/>
<rect x="410.45" y="695.80" width="8.5" height="8.5" rx="1" fill="#ff0000"/>
<rect x="440.05" y="701.16" width="8.5" height="8.5" rx="1" fill="#ff0000"/>
<rect x="469.95" y="699.37" width="8.5" height="8.5" rx="1" fill="#ff0000"/>
<rect x="499.95" y="710.08" width="8.5" height="8.5" rx="1" fill="#ff0000"/>
<rect x="529.65" y="725.70" width="8.5" height="8.5" rx="1" fill="#ff0000"/>
<circle cx="446.50" cy="581.20" r="3.5" fill="#000"/>
<circle cx="471.00" cy="582.20" r="3.5" fill="#000"/>
<circle cx="473.60" cy="585.10" r="3.5" fill="#000"/>
<circle cx="489.90" cy="580.50" r="3.5" fill="#000"/>
<circle cx="504.20" cy="587.10" r="3.5" fill="#000"/>
<circle cx="508.40" cy="583.80" r="3.5" fill="#000"/>
<circle cx="540.40" cy="578.60" r="3.5" fill="#000"/>
<circle cx="539.40" cy="584.40" r="3.5" fill="#000"/>
<circle cx="547.60" cy="583.80" r="3.5" fill="#000"/>
<circle cx="553.40" cy="582.80" r="3.5" fill="#000"/>
<circle cx="564.50" cy="581.20" r="3.5" fill="#000"/>
<circle cx="573.00" cy="586.10" r="3.5" fill="#000"/>
<circle cx="422.50" cy="328.60" r="3.5" fill="#000"/>
<circle cx="451.50" cy="324.50" r="3.5" fill="#000"/>
<circle cx="453.00" cy="327.80" r="3.5" fill="#000"/>
<circle cx="464.00" cy="322.80" r="3.5" fill="#000"/>
<circle cx="467.70" cy="322.80" r="3.5" fill="#000"/>
<circle cx="466.00" cy="329.70" r="3.5" fill="#000"/>
<circle cx="480.20" cy="324.30" r="3.5" fill="#000"/>
<circle cx="488.40" cy="324.90" r="3.5" fill="#000"/>
<circle cx="496.70" cy="322.80" r="3.5" fill="#000"/>
<circle cx="500.50" cy="330.10" r="3.5" fill="#000"/>
<line x1="86.00" y1="531.30" x2="86.00" y2="525.30" stroke="#262626" stroke-width="1.5" />
<line x1="86.00" y1="308.30" x2="86.00" y2="314.30" stroke="#262626" stroke-width="1.5" />
<line x1="205.48" y1="531.30" x2="205.48" y2="525.30" stroke="#262626" stroke-width="1.5" />
<line x1="205.48" y1="308.30" x2="205.48" y2="314.30" stroke="#262626" stroke-width="1.5" />
<line x1="324.96" y1="531.30" x2="324.96" y2="525.30" stroke="#262626" stroke-width="1.5" />
<line x1="324.96" y1="308.30" x2="324.96" y2="314.30" stroke="#262626" stroke-width="1.5" />
<line x1="444.44" y1="531.30" x2="444.44" y2="525.30" stroke="#262626" stroke-width="1.5" />
<line x1="444.44" y1="308.30" x2="444.44" y2="314.30" stroke="#262626" stroke-width="1.5" />
<line x1="563.92" y1="531.30" x2="563.92" y2="525.30" stroke="#262626" stroke-width="1.5" />
<line x1="563.92" y1="308.30" x2="563.92" y2="314.30" stroke="#262626" stroke-width="1.5" />
<line x1="86.00" y1="531.30" x2="92.00" y2="531.30" stroke="#262626" stroke-width="1.5" />
<line x1="653.50" y1="531.30" x2="647.50" y2="531.30" stroke="#262626" stroke-width="1.5" />
<line x1="86.00" y1="486.70" x2="92.00" y2="486.70" stroke="#262626" stroke-width="1.5" />
<line x1="653.50" y1="486.70" x2="647.50" y2="486.70" stroke="#262626" stroke-width="1.5" />
<line x1="86.00" y1="442.10" x2="92.00" y2="442.10" stroke="#262626" stroke-width="1.5" />
<line x1="653.50" y1="442.10" x2="647.50" y2="442.10" stroke="#262626" stroke-width="1.5" />
<line x1="86.00" y1="397.50" x2="92.00" y2="397.50" stroke="#262626" stroke-width="1.5" />
<line x1="653.50" y1="397.50" x2="647.50" y2="397.50" stroke="#262626" stroke-width="1.5" />
<line x1="86.00" y1="352.90" x2="92.00" y2="352.90" stroke="#262626" stroke-width="1.5" />
<line x1="653.50" y1="352.90" x2="647.50" y2="352.90" stroke="#262626" stroke-width="1.5" />
<line x1="86.00" y1="308.30" x2="92.00" y2="308.30" stroke="#262626" stroke-width="1.5" />
<line x1="653.50" y1="308.30" x2="647.50" y2="308.30" stroke="#262626" stroke-width="1.5" />
<rect x="86.0" y="308.3" width="567.5" height="222.99999999999994" fill="none" stroke="#262626" stroke-width="1.5"/>
<text transform="translate(77.30,540.60) scale(1,1.03)" font-size="24" text-anchor="end" fill="#262626" >0</text>
<text transform="translate(77.30,496.00) scale(1,1.03)" font-size="24" text-anchor="end" fill="#262626" >10</text>
<text transform="translate(77.30,451.40) scale(1,1.03)" font-size="24" text-anchor="end" fill="#262626" >20</text>
<text transform="translate(77.30,406.80) scale(1,1.03)" font-size="24" text-anchor="end" fill="#262626" >30</text>
<text transform="translate(77.30,362.20) scale(1,1.03)" font-size="24" text-anchor="end" fill="#262626" >40</text>
<text transform="translate(77.30,317.60) scale(1,1.03)" font-size="24" text-anchor="end" fill="#262626" >50</text>
<text transform="translate(102.50,343.00) scale(1,1.04)" font-size="23.5" text-anchor="start" fill="#000" >B</text>
<line x1="86.00" y1="788.40" x2="86.00" y2="782.40" stroke="#262626" stroke-width="1.5" />
<line x1="86.00" y1="565.30" x2="86.00" y2="571.30" stroke="#262626" stroke-width="1.5" />
<line x1="205.48" y1="788.40" x2="205.48" y2="782.40" stroke="#262626" stroke-width="1.5" />
<line x1="205.48" y1="565.30" x2="205.48" y2="571.30" stroke="#262626" stroke-width="1.5" />
<line x1="324.96" y1="788.40" x2="324.96" y2="782.40" stroke="#262626" stroke-width="1.5" />
<line x1="324.96" y1="565.30" x2="324.96" y2="571.30" stroke="#262626" stroke-width="1.5" />
<line x1="444.44" y1="788.40" x2="444.44" y2="782.40" stroke="#262626" stroke-width="1.5" />
<line x1="444.44" y1="565.30" x2="444.44" y2="571.30" stroke="#262626" stroke-width="1.5" />
<line x1="563.92" y1="788.40" x2="563.92" y2="782.40" stroke="#262626" stroke-width="1.5" />
<line x1="563.92" y1="565.30" x2="563.92" y2="571.30" stroke="#262626" stroke-width="1.5" />
<line x1="86.00" y1="788.40" x2="92.00" y2="788.40" stroke="#262626" stroke-width="1.5" />
<line x1="653.50" y1="788.40" x2="647.50" y2="788.40" stroke="#262626" stroke-width="1.5" />
<line x1="86.00" y1="743.78" x2="92.00" y2="743.78" stroke="#262626" stroke-width="1.5" />
<line x1="653.50" y1="743.78" x2="647.50" y2="743.78" stroke="#262626" stroke-width="1.5" />
<line x1="86.00" y1="699.16" x2="92.00" y2="699.16" stroke="#262626" stroke-width="1.5" />
<line x1="653.50" y1="699.16" x2="647.50" y2="699.16" stroke="#262626" stroke-width="1.5" />
<line x1="86.00" y1="654.54" x2="92.00" y2="654.54" stroke="#262626" stroke-width="1.5" />
<line x1="653.50" y1="654.54" x2="647.50" y2="654.54" stroke="#262626" stroke-width="1.5" />
<line x1="86.00" y1="609.92" x2="92.00" y2="609.92" stroke="#262626" stroke-width="1.5" />
<line x1="653.50" y1="609.92" x2="647.50" y2="609.92" stroke="#262626" stroke-width="1.5" />
<line x1="86.00" y1="565.30" x2="92.00" y2="565.30" stroke="#262626" stroke-width="1.5" />
<line x1="653.50" y1="565.30" x2="647.50" y2="565.30" stroke="#262626" stroke-width="1.5" />
<rect x="86.0" y="565.3" width="567.5" height="223.10000000000002" fill="none" stroke="#262626" stroke-width="1.5"/>
<text transform="translate(77.30,797.70) scale(1,1.03)" font-size="24" text-anchor="end" fill="#262626" >0</text>
<text transform="translate(77.30,753.08) scale(1,1.03)" font-size="24" text-anchor="end" fill="#262626" >10</text>
<text transform="translate(77.30,708.46) scale(1,1.03)" font-size="24" text-anchor="end" fill="#262626" >20</text>
<text transform="translate(77.30,663.84) scale(1,1.03)" font-size="24" text-anchor="end" fill="#262626" >30</text>
<text transform="translate(77.30,619.22) scale(1,1.03)" font-size="24" text-anchor="end" fill="#262626" >40</text>
<text transform="translate(77.30,574.60) scale(1,1.03)" font-size="24" text-anchor="end" fill="#262626" >50</text>
<text transform="translate(102.50,599.30) scale(1,1.04)" font-size="23.5" text-anchor="start" fill="#000" >C</text>
<text transform="translate(86.00,821.80) scale(1,1.03)" font-size="24" text-anchor="middle" fill="#262626" >16</text>
<text transform="translate(205.48,821.80) scale(1,1.03)" font-size="24" text-anchor="middle" fill="#262626" >20</text>
<text transform="translate(324.96,821.80) scale(1,1.03)" font-size="24" text-anchor="middle" fill="#262626" >00</text>
<text transform="translate(444.44,821.80) scale(1,1.03)" font-size="24" text-anchor="middle" fill="#262626" >04</text>
<text transform="translate(563.92,821.80) scale(1,1.03)" font-size="24" text-anchor="middle" fill="#262626" >08</text>
<text transform="translate(368.50,853.30) scale(1,1.015)" font-size="23.5" text-anchor="middle" fill="#262626" >Clock time</text>
<text transform="translate(33.00,580.00) rotate(-90) scale(1,1.015)" font-size="23.6" text-anchor="middle" fill="#262626">Salivary melatonin concentration (pg/mL)</text>
<line x1="143.74" y1="872.60" x2="143.74" y2="1363.00" stroke="#dcdcdc" stroke-width="1.3" />
<line x1="85.20" y1="1313.96" x2="670.60" y2="1313.96" stroke="#dcdcdc" stroke-width="1.3" />
<line x1="260.82" y1="872.60" x2="260.82" y2="1363.00" stroke="#dcdcdc" stroke-width="1.3" />
<line x1="85.20" y1="1215.88" x2="670.60" y2="1215.88" stroke="#dcdcdc" stroke-width="1.3" />
<line x1="377.90" y1="872.60" x2="377.90" y2="1363.00" stroke="#dcdcdc" stroke-width="1.3" />
<line x1="85.20" y1="1117.80" x2="670.60" y2="1117.80" stroke="#dcdcdc" stroke-width="1.3" />
<line x1="494.98" y1="872.60" x2="494.98" y2="1363.00" stroke="#dcdcdc" stroke-width="1.3" />
<line x1="85.20" y1="1019.72" x2="670.60" y2="1019.72" stroke="#dcdcdc" stroke-width="1.3" />
<line x1="612.06" y1="872.60" x2="612.06" y2="1363.00" stroke="#dcdcdc" stroke-width="1.3" />
<line x1="85.20" y1="921.64" x2="670.60" y2="921.64" stroke="#dcdcdc" stroke-width="1.3" />
<line x1="207.6" y1="1060.8" x2="207.6" y2="1112.2" stroke="#595959" stroke-width="3.2"/>
<polygon points="207.6,1046.8 200.0,1061.8 215.2,1061.8" fill="#595959"/>
<polygon points="207.6,1126.2 200.0,1111.2 215.2,1111.2" fill="#595959"/>
<line x1="371.8" y1="1207.3" x2="472.7" y2="1207.3" stroke="#595959" stroke-width="3.2"/>
<polygon points="357.8,1207.3 372.8,1200.0 372.8,1214.6" fill="#595959"/>
<polygon points="486.7,1207.3 471.7,1200.0 471.7,1214.6" fill="#595959"/>
<line x1="85.20" y1="1129.80" x2="670.60" y2="1003.65" stroke="#ff0000" stroke-width="1.8" stroke-dasharray="5.8,4.3"/>
<line x1="85.20" y1="1197.80" x2="670.60" y2="1044.43" stroke="#0000ff" stroke-width="1.8" stroke-dasharray="5.8,4.3"/>
<line x1="201.40" y1="1043.60" x2="371.80" y2="1043.60" stroke="#000" stroke-width="1.3" stroke-dasharray="1.5,1.5"/>
<line x1="201.40" y1="1127.20" x2="247.20" y2="1127.20" stroke="#000" stroke-width="1.3" stroke-dasharray="1.5,1.5"/>
<line x1="357.10" y1="1185.00" x2="357.10" y2="1217.00" stroke="#000" stroke-width="1.3" stroke-dasharray="1.5,1.5"/>
<line x1="486.70" y1="1116.50" x2="486.70" y2="1217.00" stroke="#000" stroke-width="1.3" stroke-dasharray="1.5,1.5"/>
<line x1="247.20" y1="1127.20" x2="465.70" y2="1127.20" stroke="#0000ff" stroke-width="1.6" />
<line x1="357.10" y1="1069.00" x2="357.10" y2="1185.00" stroke="#0000ff" stroke-width="1.6" />
<line x1="371.80" y1="1043.60" x2="603.10" y2="1043.60" stroke="#ff0000" stroke-width="1.6" />
<line x1="486.70" y1="970.20" x2="486.70" y2="1116.50" stroke="#ff0000" stroke-width="1.6" />
<circle cx="131.20" cy="1207.60" r="4.7" fill="#0000ff"/>
<circle cx="242.80" cy="1136.40" r="4.7" fill="#0000ff"/>
<circle cx="287.20" cy="1097.30" r="4.7" fill="#0000ff"/>
<circle cx="325.00" cy="1122.70" r="4.7" fill="#0000ff"/>
<circle cx="350.30" cy="1156.40" r="4.7" fill="#0000ff"/>
<circle cx="381.60" cy="1162.00" r="4.7" fill="#0000ff"/>
<circle cx="381.60" cy="1170.30" r="4.7" fill="#0000ff"/>
<circle cx="423.10" cy="1153.20" r="4.7" fill="#0000ff"/>
<circle cx="426.10" cy="996.20" r="4.7" fill="#0000ff"/>
<circle cx="484.70" cy="1067.60" r="4.7" fill="#0000ff"/>
<circle cx="495.50" cy="1126.30" r="4.7" fill="#0000ff"/>
<circle cx="319.20" cy="1164.00" r="4.7" fill="#ff0000"/>
<circle cx="365.60" cy="1080.90" r="4.7" fill="#ff0000"/>
<circle cx="390.90" cy="1025.00" r="4.7" fill="#ff0000"/>
<circle cx="438.30" cy="1018.70" r="4.7" fill="#ff0000"/>
<circle cx="483.30" cy="999.10" r="4.7" fill="#ff0000"/>
<circle cx="439.80" cy="1061.20" r="4.7" fill="#ff0000"/>
<circle cx="555.50" cy="907.30" r="4.7" fill="#ff0000"/>
<circle cx="638.30" cy="992.80" r="4.7" fill="#ff0000"/>
<circle cx="615.30" cy="1063.70" r="4.7" fill="#ff0000"/>
<circle cx="626.10" cy="1124.30" r="4.7" fill="#ff0000"/>
<text transform="translate(160.00,1096.80) scale(1,1.015)" font-size="26" text-anchor="middle" fill="#000" >1.7 h</text>
<text transform="translate(424.50,1246.00) scale(1,1.015)" font-size="26" text-anchor="middle" fill="#000" >2.2 h</text>
<rect x="246.7" y="900.3" width="215" height="81" fill="#fff" stroke="#262626" stroke-width="1.5"/>
<circle cx="304.00" cy="923.40" r="4.7" fill="#0000ff"/>
<circle cx="304.00" cy="958.20" r="4.7" fill="#ff0000"/>
<text transform="translate(352.50,933.30) scale(1,1.015)" font-size="26.3" text-anchor="start" fill="#000" >Regular</text>
<text transform="translate(352.50,968.20) scale(1,1.015)" font-size="26.3" text-anchor="start" fill="#000" >Irregular</text>
<line x1="143.74" y1="1363.00" x2="143.74" y2="1357.00" stroke="#262626" stroke-width="1.5" />
<line x1="143.74" y1="872.60" x2="143.74" y2="878.60" stroke="#262626" stroke-width="1.5" />
<line x1="85.20" y1="1313.96" x2="91.20" y2="1313.96" stroke="#262626" stroke-width="1.5" />
<line x1="670.60" y1="1313.96" x2="664.60" y2="1313.96" stroke="#262626" stroke-width="1.5" />
<line x1="260.82" y1="1363.00" x2="260.82" y2="1357.00" stroke="#262626" stroke-width="1.5" />
<line x1="260.82" y1="872.60" x2="260.82" y2="878.60" stroke="#262626" stroke-width="1.5" />
<line x1="85.20" y1="1215.88" x2="91.20" y2="1215.88" stroke="#262626" stroke-width="1.5" />
<line x1="670.60" y1="1215.88" x2="664.60" y2="1215.88" stroke="#262626" stroke-width="1.5" />
<line x1="377.90" y1="1363.00" x2="377.90" y2="1357.00" stroke="#262626" stroke-width="1.5" />
<line x1="377.90" y1="872.60" x2="377.90" y2="878.60" stroke="#262626" stroke-width="1.5" />
<line x1="85.20" y1="1117.80" x2="91.20" y2="1117.80" stroke="#262626" stroke-width="1.5" />
<line x1="670.60" y1="1117.80" x2="664.60" y2="1117.80" stroke="#262626" stroke-width="1.5" />
<line x1="494.98" y1="1363.00" x2="494.98" y2="1357.00" stroke="#262626" stroke-width="1.5" />
<line x1="494.98" y1="872.60" x2="494.98" y2="878.60" stroke="#262626" stroke-width="1.5" />
<line x1="85.20" y1="1019.72" x2="91.20" y2="1019.72" stroke="#262626" stroke-width="1.5" />
<line x1="670.60" y1="1019.72" x2="664.60" y2="1019.72" stroke="#262626" stroke-width="1.5" />
<line x1="612.06" y1="1363.00" x2="612.06" y2="1357.00" stroke="#262626" stroke-width="1.5" />
<line x1="612.06" y1="872.60" x2="612.06" y2="878.60" stroke="#262626" stroke-width="1.5" />
<line x1="85.20" y1="921.64" x2="91.20" y2="921.64" stroke="#262626" stroke-width="1.5" />
<line x1="670.60" y1="921.64" x2="664.60" y2="921.64" stroke="#262626" stroke-width="1.5" />
<rect x="85.2" y="872.6" width="585.4" height="490.4" fill="none" stroke="#262626" stroke-width="1.5"/>
<text transform="translate(143.74,1404.80) scale(1,1.03)" font-size="29.7" text-anchor="middle" fill="#262626" >18</text>
<text transform="translate(73.50,1325.96) scale(1,1.03)" font-size="29.7" text-anchor="end" fill="#262626" >18</text>
<text transform="translate(260.82,1404.80) scale(1,1.03)" font-size="29.7" text-anchor="middle" fill="#262626" >20</text>
<text transform="translate(73.50,1227.88) scale(1,1.03)" font-size="29.7" text-anchor="end" fill="#262626" >20</text>
<text transform="translate(377.90,1404.80) scale(1,1.03)" font-size="29.7" text-anchor="middle" fill="#262626" >22</text>
<text transform="translate(73.50,1129.80) scale(1,1.03)" font-size="29.7" text-anchor="end" fill="#262626" >22</text>
<text transform="translate(494.98,1404.80) scale(1,1.03)" font-size="29.7" text-anchor="middle" fill="#262626" >24</text>
<text transform="translate(73.50,1031.72) scale(1,1.03)" font-size="29.7" text-anchor="end" fill="#262626" >24</text>
<text transform="translate(612.06,1404.80) scale(1,1.03)" font-size="29.7" text-anchor="middle" fill="#262626" >26</text>
<text transform="translate(73.50,933.64) scale(1,1.03)" font-size="29.7" text-anchor="end" fill="#262626" >26</text>
<text transform="translate(377.70,1445.30) scale(1,1.015)" font-size="29.7" text-anchor="middle" fill="#262626" >Actual DLMO</text>
<text transform="translate(25.60,1118.00) rotate(-90) scale(1,1.015)" font-size="29.5" text-anchor="middle" fill="#262626">Model prediction of DLMO</text>
<text transform="translate(110.30,921.00) scale(1,1.04)" font-size="26" text-anchor="start" fill="#000" >D</text>
</svg></body></html>
